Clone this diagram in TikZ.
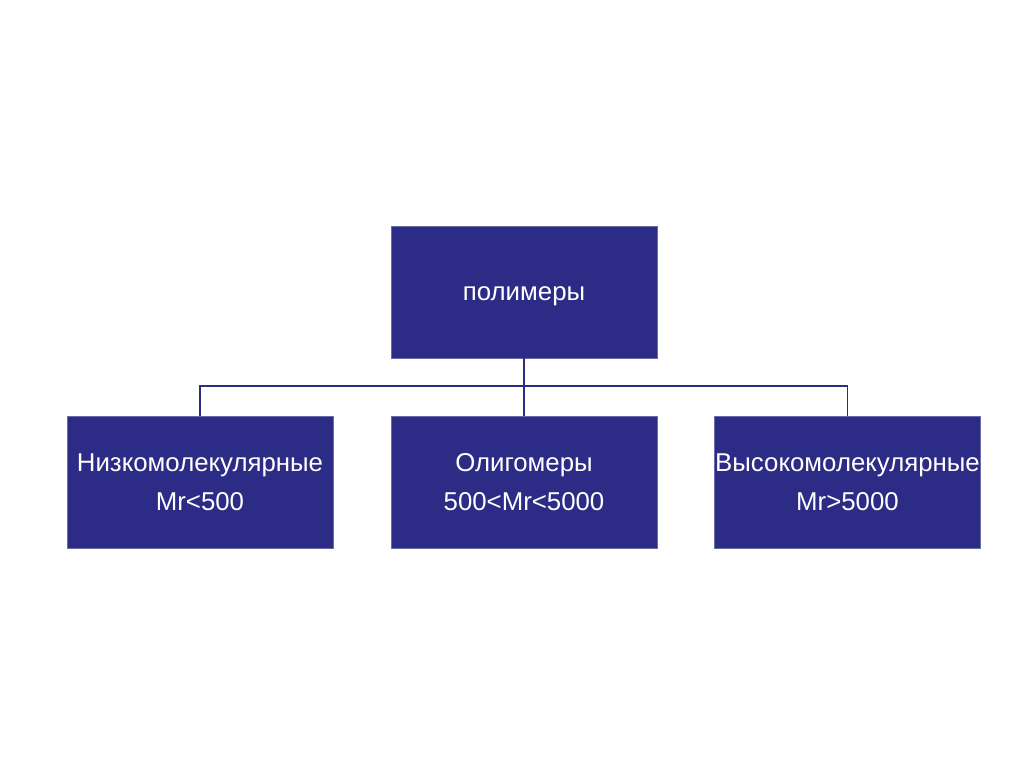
\documentclass[tikz,border=0pt]{standalone}
\usepackage{fontspec}
\setmainfont{Liberation Sans}
\definecolor{boxblue}{RGB}{44,44,134}
\begin{document}
\begin{tikzpicture}[x=1pt,y=-1pt,
  box/.style={draw=boxblue!70!white,line width=0.6pt,fill=boxblue,text=white,minimum width=266pt,minimum height=132pt,inner sep=0pt,align=center,font=\fontsize{25.8}{39}\selectfont},
  conn/.style={draw=boxblue,line width=1.6pt}]
\useasboundingbox (0,0) rectangle (1024,767);
\node[box] (top) at (524,292) {\raisebox{-4pt}[\height][\depth]{полимеры}};
\node[box] (low) at (200,482) {Низкомолекулярные\\Mr<500};
\node[box] (mid) at (524,482) {Олигомеры\\500<Mr<5000};
\node[box] (high) at (847.5,482) {Высокомолекулярные\\Mr>5000};
\coordinate (bus) at (524,386);
\draw[conn] (top.south) -- (mid.north);
\draw[conn] (low.north) -- (low.north |- bus) -- (high.north |- bus) -- (high.north);
\end{tikzpicture}
\end{document}
